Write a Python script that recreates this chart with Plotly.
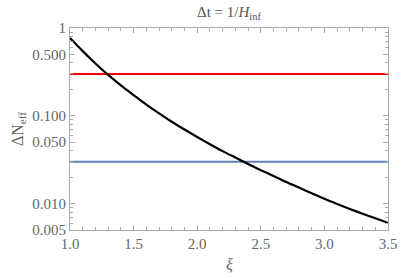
import math
import plotly.graph_objects as go

xi = [1.0, 1.1, 1.2, 1.3, 1.4, 1.5, 1.6, 1.7, 1.8, 1.9, 2.0, 2.1, 2.2, 2.3, 2.4,
      2.5, 2.6, 2.7, 2.8, 2.9, 3.0, 3.1, 3.2, 3.3, 3.4, 3.5]
dneff = [0.769, 0.545, 0.394, 0.292, 0.222, 0.172, 0.1337, 0.1064, 0.0855, 0.0697,
         0.0573, 0.0475, 0.0396, 0.0334, 0.0282, 0.0240, 0.0206, 0.0176, 0.0152,
         0.0131, 0.01135, 0.00991, 0.00869, 0.00766, 0.00679, 0.00604]
red_level = 0.30
blue_level = 0.030
x_range = [1.0, 3.5]
y_range = [0.005, 1.0]

y_tickvals = [0.005, 0.01, 0.05, 0.1, 0.5, 1]
y_ticktext = ["0.005", "0.010", "0.050", "0.100", "0.500", "1"]
y_minor = [0.006, 0.007, 0.008, 0.009, 0.02, 0.03, 0.04, 0.06, 0.07, 0.08, 0.09,
           0.2, 0.3, 0.4, 0.6, 0.7, 0.8, 0.9]
x_tickvals = [1.0, 1.5, 2.0, 2.5, 3.0, 3.5]
x_ticktext = ["1.0", "1.5", "2.0", "2.5", "3.0", "3.5"]

fig = go.Figure()
fig.add_trace(go.Scatter(x=x_range, y=[red_level, red_level], mode="lines",
                         line=dict(color="#ff0000", width=2), showlegend=False))
fig.add_trace(go.Scatter(x=x_range, y=[blue_level, blue_level], mode="lines",
                         line=dict(color="#5e81b5", width=2), showlegend=False))
fig.add_trace(go.Scatter(x=xi, y=dneff, mode="lines",
                         line=dict(color="black", width=2.2, shape="spline", smoothing=0.8),
                         showlegend=False))

tf = dict(family="Liberation Serif", size=15, color="#666666")
fig.update_layout(
    width=409, height=278,
    margin=dict(l=70, r=12, t=28, b=48),
    paper_bgcolor="white", plot_bgcolor="white",
    font=tf,
    xaxis=dict(range=x_range, tickvals=x_tickvals, ticktext=x_ticktext,
               ticks="inside", ticklen=5, tickcolor="#aaaaaa", tickwidth=1,
               showline=True, linecolor="#aaaaaa", linewidth=1, mirror="allticks",
               showgrid=False, zeroline=False,
               minor=dict(ticks="inside", ticklen=3, dtick=0.1, tickcolor="#aaaaaa", showgrid=False),
               tickfont=tf),
    yaxis=dict(type="log", range=[math.log10(y_range[0]), math.log10(y_range[1])],
               tickvals=y_tickvals, ticktext=y_ticktext,
               ticks="inside", ticklen=5, tickcolor="#aaaaaa", tickwidth=1,
               showline=True, linecolor="#aaaaaa", linewidth=1, mirror="allticks",
               showgrid=False, zeroline=False,
               minor=dict(ticks="inside", ticklen=3, tickvals=y_minor, tickcolor="#aaaaaa", showgrid=False),
               tickfont=tf),
)
fig.add_annotation(text="Δt = 1/<i>H</i><sub>inf</sub>", x=0.5, y=1, xref="paper", yref="paper",
                   yanchor="bottom", yshift=4, showarrow=False,
                   font=dict(family="Liberation Serif", size=15, color="#555555"))
fig.add_annotation(text="<i>ξ</i>", x=0.5, y=0, xref="paper", yref="paper",
                   yanchor="top", yshift=-24, showarrow=False,
                   font=dict(family="Liberation Serif", size=16, color="#666666"))
fig.add_annotation(text="ΔN<sub>eff</sub>", x=0, y=0.5, xref="paper", yref="paper",
                   xanchor="center", xshift=-52, textangle=-90, showarrow=False,
                   font=dict(family="Liberation Serif", size=16, color="#666666"))
fig.write_html("out.html", config={"displayModeBar": False},
               post_script="document.body.style.margin='0px';")
